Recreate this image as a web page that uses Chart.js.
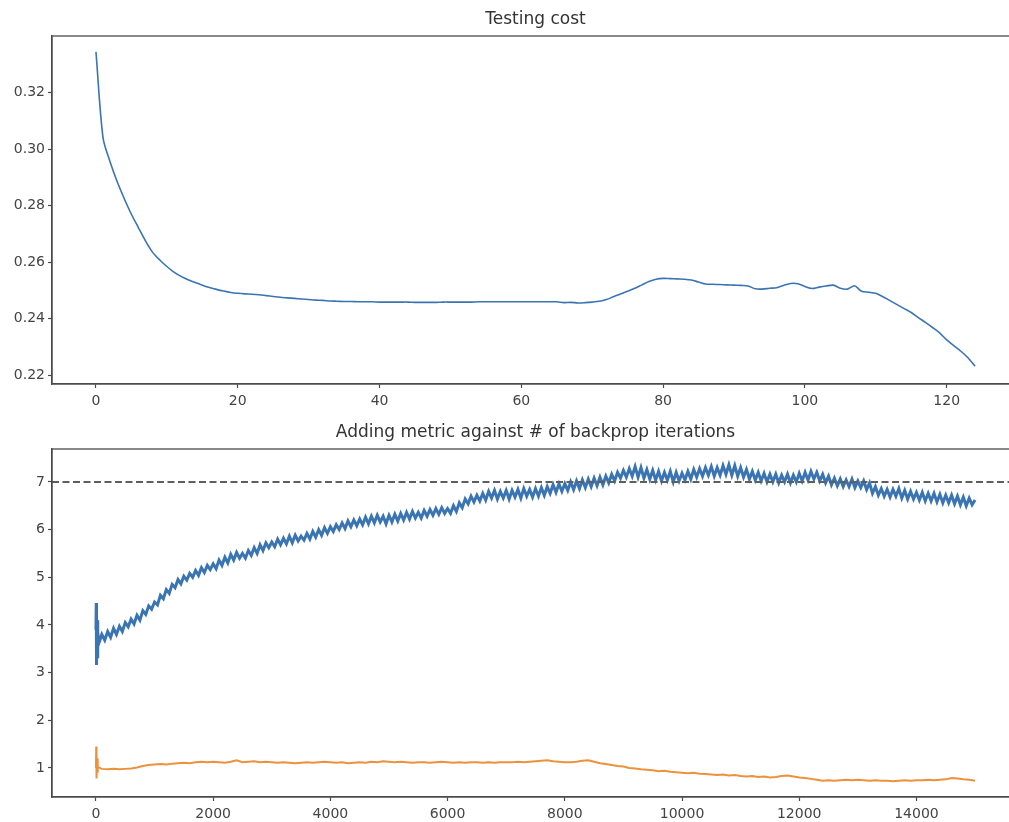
<!DOCTYPE html>
<html>
<head>
<meta charset="utf-8">
<script src="https://cdn.jsdelivr.net/npm/chart.js@4.4.1/dist/chart.umd.min.js"></script>
<style>
  html, body { margin: 0; padding: 0; background: #fff; overflow: hidden; }
  .box { position: absolute; left: 0; width: 1030px; }
  #topBox { top: 0; height: 410px; }
  #bottomBox { top: 410px; height: 412px; }
</style>
</head>
<body>
<div class="box" id="topBox"><canvas id="costChart"></canvas></div>
<div class="box" id="bottomBox"><canvas id="metricChart"></canvas></div>
<script>
'use strict';

// Testing cost per epoch (0..124)
const costValues = [
  0.3345, 0.3040, 0.2955, 0.2885, 0.2825, 0.2770, 0.2722, 0.2675, 0.2635, 0.2608,
  0.2585, 0.2565, 0.2550, 0.2538, 0.2528, 0.2519, 0.2511, 0.2504, 0.2498, 0.2493,
  0.2490, 0.2488, 0.2487, 0.2485, 0.2482, 0.2479, 0.2476, 0.2474, 0.2472, 0.2470,
  0.2468, 0.2466, 0.2465, 0.2463, 0.2462, 0.2461, 0.2461, 0.2460, 0.2460, 0.2460,
  0.2459, 0.2459, 0.2459, 0.2459, 0.2459, 0.2458, 0.2458, 0.2458, 0.2458, 0.2459,
  0.2459, 0.2459, 0.2459, 0.2459, 0.2460, 0.2460, 0.2460, 0.2460, 0.2460, 0.2460,
  0.2460, 0.2460, 0.2460, 0.2460, 0.2460, 0.2460, 0.2457, 0.2458, 0.2456, 0.2457,
  0.2459, 0.2462, 0.2468, 0.2478, 0.2488, 0.2497, 0.2508, 0.2520, 0.2532, 0.2540,
  0.2543, 0.2542, 0.2541, 0.2540, 0.2537, 0.2530, 0.2523, 0.2522, 0.2521, 0.2520,
  0.2519, 0.2518, 0.2516, 0.2506, 0.2505, 0.2508, 0.2510, 0.2518, 0.2525, 0.2524,
  0.2514, 0.2507, 0.2512, 0.2516, 0.2519, 0.2508, 0.2505, 0.2517, 0.2497, 0.2494,
  0.2490, 0.2478, 0.2464, 0.2450, 0.2436, 0.2422, 0.2404, 0.2387, 0.2369, 0.2350,
  0.2325, 0.2305, 0.2285, 0.2262, 0.2232
];
const costXTicks = [0, 20, 40, 60, 80, 100, 120];
const costYTicks = [0.22, 0.24, 0.26, 0.28, 0.30, 0.32];

// first few iterations (the spike at the very start)
const headIters = [0, 5, 10, 18, 26, 34];
const headMetric = [3.90, 4.46, 3.16, 4.10, 3.30, 3.85];
const headBaseline = [1.00, 1.45, 0.78, 1.20, 0.90, 1.02];

// adding metric, every 50 iterations from 50 to 15000
const metricValues = [
  3.62, 3.80, 3.68, 3.86, 3.74, 3.93, 3.80, 3.97, 3.86, 4.05,
  3.96, 4.12, 4.02, 4.20, 4.10, 4.30, 4.22, 4.40, 4.33, 4.48,
  4.42, 4.62, 4.55, 4.74, 4.66, 4.85, 4.78, 4.95, 4.86, 5.02,
  4.94, 5.08, 5.00, 5.14, 5.04, 5.20, 5.10, 5.25, 5.16, 5.28,
  5.18, 5.36, 5.25, 5.42, 5.30, 5.48, 5.36, 5.52, 5.40, 5.50,
  5.40, 5.56, 5.46, 5.62, 5.50, 5.68, 5.56, 5.72, 5.62, 5.74,
  5.64, 5.80, 5.68, 5.82, 5.70, 5.86, 5.72, 5.88, 5.76, 5.86,
  5.78, 5.92, 5.80, 5.96, 5.84, 6.00, 5.88, 6.04, 5.92, 6.06,
  5.96, 6.10, 6.00, 6.14, 6.02, 6.18, 6.06, 6.20, 6.08, 6.22,
  6.10, 6.26, 6.12, 6.28, 6.14, 6.30, 6.16, 6.28, 6.12, 6.30,
  6.16, 6.32, 6.18, 6.34, 6.20, 6.36, 6.22, 6.38, 6.24, 6.36,
  6.24, 6.40, 6.28, 6.42, 6.30, 6.44, 6.32, 6.46, 6.34, 6.44,
  6.34, 6.50, 6.38, 6.56, 6.46, 6.64, 6.54, 6.70, 6.58, 6.72,
  6.60, 6.76, 6.62, 6.80, 6.66, 6.82, 6.64, 6.80, 6.66, 6.82,
  6.64, 6.82, 6.68, 6.84, 6.66, 6.86, 6.70, 6.84, 6.68, 6.86,
  6.70, 6.88, 6.72, 6.90, 6.76, 6.94, 6.78, 6.96, 6.80, 6.96,
  6.82, 7.00, 6.84, 7.02, 6.86, 7.04, 6.88, 7.06, 6.90, 7.08,
  6.92, 7.10, 6.94, 7.12, 6.98, 7.16, 7.02, 7.20, 7.08, 7.24,
  7.10, 7.28, 7.12, 7.32, 7.10, 7.30, 7.08, 7.26, 7.06, 7.24,
  7.04, 7.22, 7.02, 7.20, 7.04, 7.22, 7.00, 7.20, 7.02, 7.18,
  7.04, 7.22, 7.06, 7.26, 7.10, 7.28, 7.12, 7.30, 7.14, 7.32,
  7.12, 7.30, 7.14, 7.34, 7.16, 7.36, 7.14, 7.34, 7.12, 7.30,
  7.10, 7.26, 7.06, 7.22, 7.04, 7.20, 7.02, 7.18, 7.00, 7.16,
  7.00, 7.16, 6.98, 7.14, 7.00, 7.16, 6.98, 7.14, 7.00, 7.18,
  7.02, 7.20, 7.04, 7.22, 7.06, 7.20, 7.02, 7.16, 6.98, 7.12,
  6.94, 7.08, 6.92, 7.06, 6.90, 7.04, 6.90, 7.06, 6.88, 7.02,
  6.88, 7.02, 6.84, 6.98, 6.76, 6.90, 6.72, 6.86, 6.70, 6.84,
  6.68, 6.84, 6.70, 6.86, 6.66, 6.82, 6.64, 6.80, 6.64, 6.78,
  6.62, 6.78, 6.60, 6.76, 6.60, 6.76, 6.58, 6.74, 6.56, 6.72,
  6.56, 6.72, 6.54, 6.70, 6.52, 6.68, 6.50, 6.66, 6.52, 6.62
];
const metricStep = 50;

// baseline (orange), every 100 iterations from 100 to 15000
const baselineValues = [
  0.98, 0.97, 0.98, 0.97, 0.98, 0.99, 1.01, 1.04, 1.06, 1.07,
  1.08, 1.07, 1.09, 1.10, 1.11, 1.10, 1.12, 1.13, 1.12, 1.13,
  1.12, 1.11, 1.13, 1.16, 1.12, 1.13, 1.14, 1.12, 1.13, 1.12,
  1.11, 1.12, 1.11, 1.10, 1.11, 1.12, 1.11, 1.12, 1.13, 1.12,
  1.11, 1.12, 1.10, 1.11, 1.12, 1.11, 1.13, 1.12, 1.14, 1.13,
  1.12, 1.13, 1.12, 1.11, 1.12, 1.12, 1.11, 1.12, 1.13, 1.12,
  1.11, 1.12, 1.11, 1.12, 1.12, 1.11, 1.12, 1.11, 1.12, 1.12,
  1.12, 1.13, 1.12, 1.13, 1.14, 1.15, 1.16, 1.14, 1.13, 1.12,
  1.12, 1.13, 1.15, 1.16, 1.13, 1.10, 1.08, 1.06, 1.04, 1.03,
  1.00, 0.99, 0.97, 0.96, 0.95, 0.93, 0.94, 0.92, 0.91, 0.90,
  0.89, 0.90, 0.88, 0.87, 0.86, 0.85, 0.86, 0.84, 0.85, 0.83,
  0.82, 0.83, 0.81, 0.82, 0.80, 0.81, 0.83, 0.84, 0.82, 0.80,
  0.79, 0.77, 0.75, 0.73, 0.74, 0.73, 0.74, 0.75, 0.74, 0.75,
  0.74, 0.73, 0.74, 0.73, 0.73, 0.72, 0.73, 0.74, 0.73, 0.74,
  0.74, 0.75, 0.74, 0.75, 0.76, 0.79, 0.78, 0.76, 0.75, 0.73
];
const baselineStep = 100;
const targetLevel = 7;
const metricXTicks = [0, 2000, 4000, 6000, 8000, 10000, 12000, 14000];
const metricYTicks = [1, 2, 3, 4, 5, 6, 7];

// colours
const blueColor = '#3a74b2',
  orangeColor = '#ec913c',
  axisColor = '#4a4a4a',
  labelColor = '#444',
  dashColor = '#5e5e5e';

Chart.defaults.font.family = '"DejaVu Sans", sans-serif';
Chart.defaults.font.size = 14;
Chart.defaults.color = labelColor;

// draws the top and right spines of the axes box
const frameBox = {
  id: 'frameBox',
  afterDatasetsDraw(chart) {
    const a = chart.chartArea;
    const ctx = chart.ctx;
    ctx.save();
    ctx.strokeStyle = axisColor;
    ctx.lineWidth = 1.3;
    ctx.strokeRect(a.left, a.top, a.right - a.left, a.bottom - a.top);
    ctx.restore();
  }
};

function axisOpts(ticks, min, max, fmt, isX, size) {
  return {
    type: 'linear',
    min: min,
    max: max,
    afterBuildTicks: s => { s.ticks = ticks.map(v => ({ value: v })); },
    afterFit: s => { if (isX) s.height = size; else s.width = size; },
    grid: { drawOnChartArea: false, color: axisColor, tickLength: 4, tickWidth: 1.2 },
    border: { color: axisColor, width: 1.3 },
    ticks: { padding: isX ? 5 : 3, color: labelColor, callback: fmt }
  };
}

function titleOpts(text, top) {
  return {
    display: true,
    text: text,
    fullSize: false,
    color: '#333',
    font: { size: 17, weight: 'normal' },
    padding: { top: top, bottom: 6 }
  };
}

// top: testing cost
const costPoints = costValues.map((v, i) => ({ x: i, y: v }));
new Chart(document.getElementById('costChart'), {
  type: 'line',
  data: {
    datasets: [{
      data: costPoints,
      borderColor: blueColor,
      borderWidth: 1.6,
      pointRadius: 0,
      tension: 0.3
    }]
  },
  options: {
    responsive: true,
    maintainAspectRatio: false,
    animation: false,
    layout: { padding: { left: 0, right: 11, top: 0, bottom: 0 } },
    plugins: {
      legend: { display: false },
      tooltip: { enabled: false },
      title: titleOpts('Testing cost', 9.6)
    },
    scales: {
      x: axisOpts(costXTicks, -6.2, 130.2, v => String(v), true, 26),
      y: axisOpts(costYTicks, 0.2169, 0.3401, v => v.toFixed(2), false, 52)
    }
  },
  plugins: [frameBox]
});

// bottom: adding metric vs iterations
const metricPoints = headIters.map((x, i) => ({ x: x, y: headMetric[i] }))
  .concat(metricValues.map((v, i) => ({ x: (i + 1) * metricStep, y: v })));
const baselinePoints = headIters.map((x, i) => ({ x: x, y: headBaseline[i] }))
  .concat(baselineValues.map((v, i) => ({ x: (i + 1) * baselineStep, y: v })));
const xMin = -750, xMax = 15750;

new Chart(document.getElementById('metricChart'), {
  type: 'line',
  data: {
    datasets: [
      {
        data: [{ x: xMin, y: targetLevel }, { x: xMax, y: targetLevel }],
        borderColor: dashColor,
        borderWidth: 2,
        borderDash: [7, 3.5],
        pointRadius: 0
      },
      {
        data: metricPoints,
        borderColor: blueColor,
        borderWidth: 3,
        pointRadius: 0,
        tension: 0
      },
      {
        data: baselinePoints,
        borderColor: orangeColor,
        borderWidth: 2,
        pointRadius: 0,
        tension: 0
      }
    ]
  },
  options: {
    responsive: true,
    maintainAspectRatio: false,
    animation: false,
    layout: { padding: { left: 0, right: 11, top: 0, bottom: 0 } },
    plugins: {
      legend: { display: false },
      tooltip: { enabled: false },
      title: titleOpts('Adding metric against # of backprop iterations', 12.6)
    },
    scales: {
      x: axisOpts(metricXTicks, xMin, xMax, v => String(v), true, 25),
      y: axisOpts(metricYTicks, 0.39, 7.69, v => String(v), false, 52)
    }
  },
  plugins: [frameBox]
});
</script>
</body>
</html>
